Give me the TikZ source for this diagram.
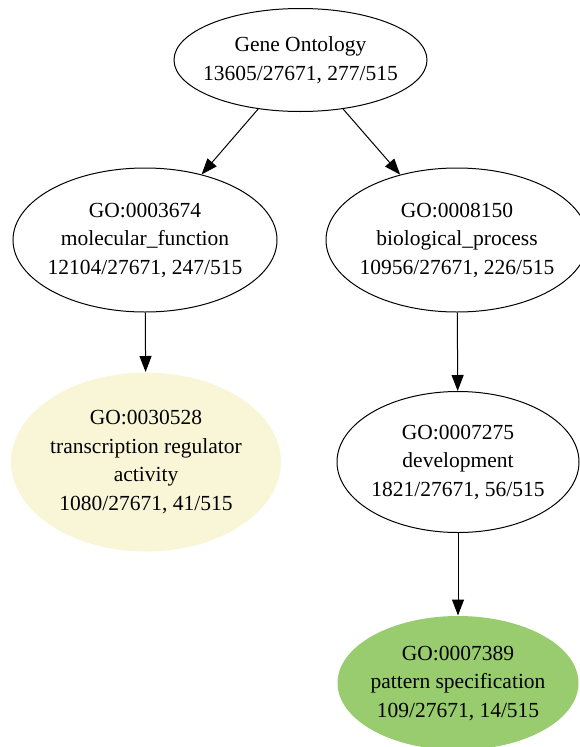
\documentclass[tikz,border=0pt]{standalone}
\usepackage{fontspec}
\setmainfont{Liberation Serif}
\usetikzlibrary{shapes.geometric,arrows.meta}
\definecolor{regyellow}{RGB}{249,246,216}
\definecolor{patgreen}{RGB}{152,204,110}
\begin{document}
\begin{tikzpicture}[x=1pt,y=-1pt,
        term/.style={ellipse, draw, line width=1pt, inner sep=0pt,
                        label={[align=center, inner sep=0pt,
                                font=\fontsize{21.5}{28.5}\selectfont]center:#1}},
        hit/.style={term={#1}, draw=none},
        link/.style={-{Triangle[length=16pt,width=12pt]}, line width=1pt}]
    \useasboundingbox (0,0) rectangle (580,747);
    % terms
    \node[term={Gene Ontology\\13605/27671, 277/515},
          minimum width=253pt, minimum height=103pt] (root) at (300.5,60) {};
    \node[term={GO:0003674\\molecular\_function\\12104/27671, 247/515},
          minimum width=264pt, minimum height=144pt] (mf) at (145,240) {};
    \node[term={GO:0008150\\biological\_process\\10956/27671, 226/515},
          minimum width=262pt, minimum height=144pt] (bp) at (457,240) {};
    \node[hit={GO:0030528\\transcription regulator\\activity\\1080/27671, 41/515},
          fill=regyellow, minimum width=270pt, minimum height=179pt] (tra) at (146,462) {};
    \node[term={GO:0007275\\development\\1821/27671, 56/515},
          minimum width=242pt, minimum height=141pt] (dev) at (458,462) {};
    \node[hit={GO:0007389\\pattern specification\\109/27671, 14/515},
          fill=patgreen, minimum width=241pt, minimum height=134pt] (pat) at (458,683) {};
    % is_a links
    \draw[link] (root) -- (mf);
    \draw[link] (root) -- (bp);
    \draw[link] (mf) -- (tra);
    \draw[link] (bp) -- (dev);
    \draw[link] (dev) -- (pat);
\end{tikzpicture}
\end{document}
